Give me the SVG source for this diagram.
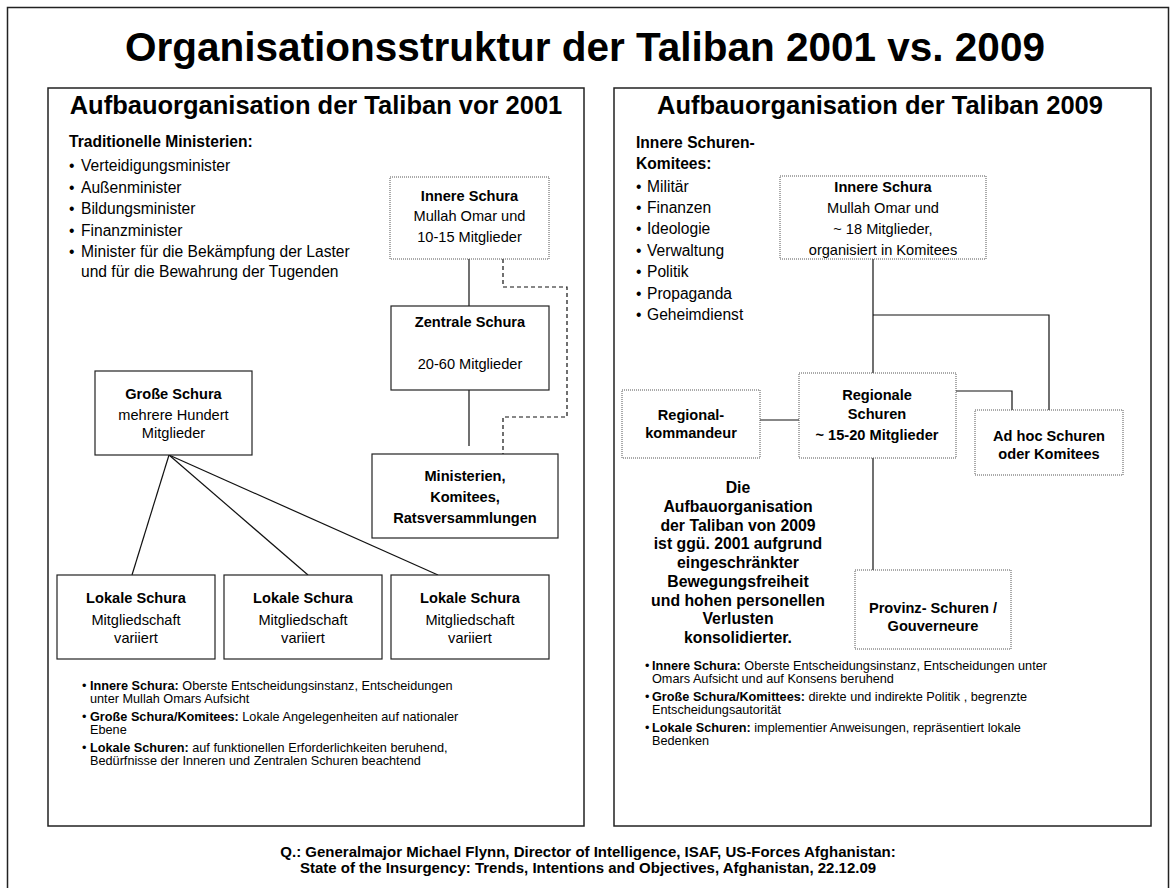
<svg xmlns="http://www.w3.org/2000/svg" width="1175" height="888" viewBox="0 0 1175 888">
<style>
text{font-family:"Liberation Sans",Arial,sans-serif;fill:#000}
.b{font-weight:bold}
.c{text-anchor:middle}
.t{font-size:40.5px;font-weight:bold}
.h{font-size:25.5px;font-weight:bold}
.l{font-size:15.6px}
.n{font-size:14.6px}
.s{font-size:12.7px}
.f{font-size:15px;font-weight:bold}
.dk{font-size:15.8px;font-weight:bold}
.frame{fill:none;stroke:#222;stroke-width:1.5}
.box{fill:#fff;stroke:#222;stroke-width:1.2}
.dot{fill:#fff;stroke:#555;stroke-width:1;stroke-dasharray:1 1}
.ln{fill:none;stroke:#111;stroke-width:1.2}
.ds{fill:none;stroke:#111;stroke-width:1.2;stroke-dasharray:4 3}
</style>
<rect width="1175" height="888" fill="#fff"/>
<rect class="frame" x="7.5" y="7.5" width="1161" height="900"/>
<text class="t c" x="585" y="61">Organisationsstruktur der Taliban 2001 vs. 2009</text>

<g id="panel-left">
<rect class="frame" x="48" y="88" width="536" height="738"/>
<text class="h c" x="316" y="114">Aufbauorganisation der Taliban vor 2001</text>
<text class="l b" x="69" y="147">Traditionelle Ministerien:</text>
<text class="l" x="69" y="171">•<tspan x="81">Verteidigungsminister</tspan></text>
<text class="l" x="69" y="192.5">•<tspan x="81">Außenminister</tspan></text>
<text class="l" x="69" y="214">•<tspan x="81">Bildungsminister</tspan></text>
<text class="l" x="69" y="235.5">•<tspan x="81">Finanzminister</tspan></text>
<text class="l" x="69" y="257">•<tspan x="81">Minister für die Bekämpfung der Laster</tspan></text>
<text class="l" x="81" y="277">und für die Bewahrung der Tugenden</text>
<text class="s" x="82" y="690">•<tspan x="90" class="b">Innere Schura:</tspan> Oberste Entscheidungsinstanz, Entscheidungen</text>
<text class="s" x="90" y="703">unter Mullah Omars Aufsicht</text>
<text class="s" x="82" y="721">•<tspan x="90" class="b">Große Schura/Komitees:</tspan> Lokale Angelegenheiten auf nationaler</text>
<text class="s" x="90" y="734">Ebene</text>
<text class="s" x="82" y="752">•<tspan x="90" class="b">Lokale Schuren:</tspan> auf funktionellen Erforderlichkeiten beruhend,</text>
<text class="s" x="90" y="765">Bedürfnisse der Inneren und Zentralen Schuren beachtend</text>
</g>

<g id="panel-right">
<rect class="frame" x="614" y="88" width="537" height="738"/>
<text class="h c" x="880" y="114">Aufbauorganisation der Taliban 2009</text>
<text class="l b" x="636" y="148">Innere Schuren-</text>
<text class="l b" x="636" y="169">Komitees:</text>
<text class="l" x="636" y="191.5">•<tspan x="647">Militär</tspan></text>
<text class="l" x="636" y="213">•<tspan x="647">Finanzen</tspan></text>
<text class="l" x="636" y="234">•<tspan x="647">Ideologie</tspan></text>
<text class="l" x="636" y="255.5">•<tspan x="647">Verwaltung</tspan></text>
<text class="l" x="636" y="277">•<tspan x="647">Politik</tspan></text>
<text class="l" x="636" y="298.5">•<tspan x="647">Propaganda</tspan></text>
<text class="l" x="636" y="320">•<tspan x="647">Geheimdienst</tspan></text>
<g id="note-2009">
<text class="dk c" x="738" y="493">Die</text>
<text class="dk c" x="738" y="511.8">Aufbauorganisation</text>
<text class="dk c" x="738" y="530.5">der Taliban von 2009</text>
<text class="dk c" x="738" y="549.3">ist ggü. 2001 aufgrund</text>
<text class="dk c" x="738" y="568">eingeschränkter</text>
<text class="dk c" x="738" y="586.8">Bewegungsfreiheit</text>
<text class="dk c" x="738" y="605.5">und hohen personellen</text>
<text class="dk c" x="738" y="624.3">Verlusten</text>
<text class="dk c" x="738" y="643">konsolidierter.</text>
</g>
<text class="s" x="645" y="670">•<tspan x="652" class="b">Innere Schura:</tspan> Oberste Entscheidungsinstanz, Entscheidungen  unter</text>
<text class="s" x="652" y="683">Omars Aufsicht und auf Konsens beruhend</text>
<text class="s" x="645" y="701">•<tspan x="652" class="b">Große Schura/Komittees:</tspan> direkte und indirekte Politik , begrenzte</text>
<text class="s" x="652" y="714">Entscheidungsautorität</text>
<text class="s" x="645" y="732">•<tspan x="652" class="b">Lokale Schuren:</tspan> implementier Anweisungen, repräsentiert lokale</text>
<text class="s" x="652" y="745">Bedenken</text>
</g>

<g id="connectors">
<line class="ln" x1="469" y1="259" x2="469" y2="307"/>
<line class="ln" x1="469" y1="390" x2="469" y2="446"/>
<path class="ds" d="M503 259 V287 H567 V417 H503 V454"/>
<line class="ln" x1="169" y1="455" x2="132" y2="575"/>
<line class="ln" x1="169" y1="455" x2="308" y2="575"/>
<line class="ln" x1="169" y1="455" x2="438" y2="575"/>
<path class="ln" d="M873 259 V373"/>
<path class="ln" d="M873 315 H1049 V410"/>
<path class="ln" d="M956 391 H1012 V410"/>
<path class="ln" d="M760 420 H799"/>
<path class="ln" d="M873 458 V570"/>
</g>

<g id="innere-schura-2001">
<rect class="dot" x="390" y="177" width="159" height="82"/>
<text class="n b c" x="469.5" y="201">Innere Schura</text>
<text class="n c" x="469.5" y="221">Mullah Omar und</text>
<text class="n c" x="469.5" y="242">10-15 Mitglieder</text>
</g>
<g id="zentrale-schura">
<rect class="box" x="391" y="306" width="158" height="84"/>
<text class="n b c" x="470" y="327">Zentrale Schura</text>
<text class="n c" x="470" y="369">20-60 Mitglieder</text>
</g>
<g id="ministerien">
<rect class="box" x="372" y="454" width="186" height="84"/>
<text class="n b c" x="465" y="481">Ministerien,</text>
<text class="n b c" x="465" y="502">Komitees,</text>
<text class="n b c" x="465" y="523">Ratsversammlungen</text>
</g>
<g id="grosse-schura">
<rect class="box" x="95" y="371" width="157" height="84"/>
<text class="n b c" x="173.5" y="399">Große Schura</text>
<text class="n c" x="173.5" y="420">mehrere Hundert</text>
<text class="n c" x="173.5" y="438">Mitglieder</text>
</g>
<g id="lokale-schura-1">
<rect class="box" x="57" y="575" width="158" height="84"/>
<text class="n b c" x="136" y="603">Lokale Schura</text>
<text class="n c" x="136" y="625">Mitgliedschaft</text>
<text class="n c" x="136" y="643">variiert</text>
</g>
<g id="lokale-schura-2">
<rect class="box" x="224" y="575" width="158" height="84"/>
<text class="n b c" x="303" y="603">Lokale Schura</text>
<text class="n c" x="303" y="625">Mitgliedschaft</text>
<text class="n c" x="303" y="643">variiert</text>
</g>
<g id="lokale-schura-3">
<rect class="box" x="391" y="575" width="158" height="84"/>
<text class="n b c" x="470" y="603">Lokale Schura</text>
<text class="n c" x="470" y="625">Mitgliedschaft</text>
<text class="n c" x="470" y="643">variiert</text>
</g>

<g id="innere-schura-2009">
<rect class="dot" x="780" y="176" width="206" height="83"/>
<text class="n b c" x="883" y="192">Innere Schura</text>
<text class="n c" x="883" y="213">Mullah Omar und</text>
<text class="n c" x="883" y="234">~ 18 Mitglieder,</text>
<text class="n c" x="883" y="255">organisiert in Komitees</text>
</g>
<g id="regionalkommandeur">
<rect class="dot" x="622" y="390" width="138" height="68"/>
<text class="n b c" x="691" y="420">Regional-</text>
<text class="n b c" x="691" y="438">kommandeur</text>
</g>
<g id="regionale-schuren">
<rect class="dot" x="799" y="373" width="157" height="85"/>
<text class="n b c" x="877" y="400">Regionale</text>
<text class="n b c" x="877" y="419">Schuren</text>
<text class="n b c" x="877" y="440">~ 15-20 Mitglieder</text>
</g>
<g id="ad-hoc">
<rect class="dot" x="975" y="410" width="148" height="65"/>
<text class="n b c" x="1049" y="441">Ad hoc Schuren</text>
<text class="n b c" x="1049" y="459">oder Komitees</text>
</g>
<g id="provinz-schuren">
<rect class="dot" x="855" y="570" width="156" height="79"/>
<text class="n b c" x="933" y="613">Provinz- Schuren /</text>
<text class="n b c" x="933" y="631">Gouverneure</text>
</g>

<g id="footer">
<text class="f c" x="588" y="857">Q.: Generalmajor Michael Flynn, Director of Intelligence, ISAF, US-Forces Afghanistan:</text>
<text class="f c" x="588" y="873">State of the Insurgency: Trends, Intentions and Objectives, Afghanistan, 22.12.09</text>
</g>
</svg>
